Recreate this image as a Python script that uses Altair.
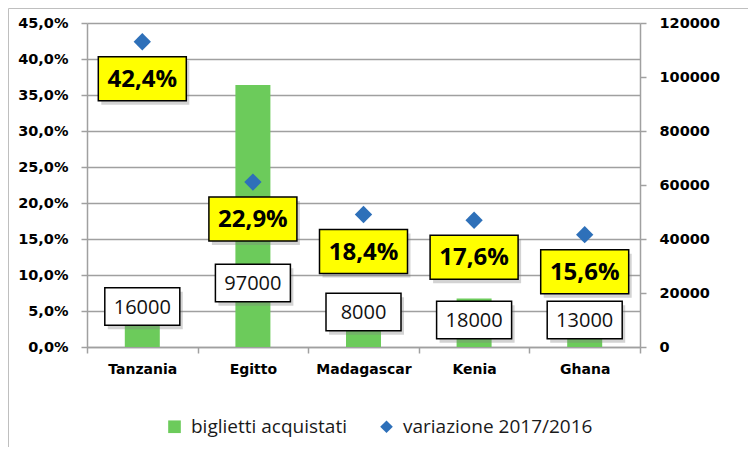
import altair as alt
import pandas as pd

countries = ["Tanzania", "Egitto", "Madagascar", "Kenia", "Ghana"]
tickets = [16000, 97000, 8000, 18000, 13000]
variation = [0.424, 0.229, 0.184, 0.176, 0.156]
# where the white value labels sit, in ticket units (as placed in the original)
ticket_label_at = [15000, 23700, 13000, 10000, 10000]

series_names = ["biglietti acquistati", "variazione 2017/2016"]
pct_ticks = [0, 0.05, 0.10, 0.15, 0.20, 0.25, 0.30, 0.35, 0.40, 0.45]
count_ticks = [0, 20000, 40000, 60000, 80000, 100000, 120000]

df = pd.DataFrame({
    "country": countries,
    "tickets": tickets,
    "variation": variation,
    "label_at": ticket_label_at,
})

W, H = 553, 324
GREEN = "#6CCB5B"
BLUE = "#2E70B9"
GRID = "#A0A0A0"
BOX = "M-1,-0.5L1,-0.5L1,0.5L-1,0.5Z"
AXFONT = "DejaVu Sans"

pct_fmt = "replace(format(datum.value, '.1%'), '.', ',')"

x_enc = alt.X(
    "country:N", sort=countries, title=None,
    scale=alt.Scale(paddingInner=0, paddingOuter=0),
    axis=alt.Axis(
        tickBand="extent", labelAngle=0, tickSize=6, tickColor=GRID, tickWidth=1.5,
        domainColor=GRID, domainWidth=1.5, labelFont=AXFONT, labelFontWeight="bold",
        labelFontSize=14, labelColor="black", labelPadding=9,
    ),
)

count_scale = alt.Scale(domain=[0, 120000], nice=False, zero=True)
pct_scale = alt.Scale(domain=[0, 0.45], nice=False, zero=True)

count_axis = alt.Axis(
    orient="right", values=count_ticks, format="d", grid=False, title=None,
    tickSize=6, tickColor=GRID, tickWidth=1.5, domainColor=GRID,
    domainWidth=1.5, labelFont=AXFONT, labelFontWeight="bold",
    labelFontSize=14.5, labelColor="black", labelPadding=13,
)
pct_axis = alt.Axis(
    orient="left", values=pct_ticks, labelExpr=pct_fmt, grid=True, title=None,
    gridColor=GRID, gridWidth=1.5, tickSize=6, tickColor=GRID,
    tickWidth=1.5, domainColor=GRID, domainWidth=1.5,
    labelFont=AXFONT, labelFontWeight="bold", labelFontSize=14.5,
    labelColor="black", labelPadding=13,
)

legend_kw = dict(
    title=None, orient="none", legendX=78, legendY=394, direction="horizontal",
    labelFont="Open Sans", labelFontSize=19, labelColor="#1a1a1a", labelLimit=0,
    symbolSize=160, symbolStrokeWidth=0, columnPadding=30, labelOffset=7, padding=0,
)

color_enc = alt.Color(
    "series:N",
    scale=alt.Scale(domain=series_names, range=[GREEN, BLUE]),
    legend=alt.Legend(**legend_kw),
)
shape_enc = alt.Shape(
    "series:N",
    scale=alt.Scale(domain=series_names, range=["square", "diamond"]),
    legend=alt.Legend(**legend_kw),
)

base = alt.Chart(df)

frame = alt.Chart(alt.Data(values=[{"a": 1}])).mark_rect(
    filled=False, stroke="#BFBFBF", strokeWidth=1
).encode(
    x=alt.value(-78.5), x2=alt.value(W + 130),
    y=alt.value(-14.5), y2=alt.value(H + 130),
)

y_count_lbl = alt.Y("label_at:Q", scale=count_scale, title=None, axis=count_axis)
y_pct = alt.Y("variation:Q", scale=pct_scale, title=None, axis=pct_axis)

bars = base.transform_calculate(series="'biglietti acquistati'").mark_bar(size=35).encode(
    x=x_enc,
    y=alt.Y("tickets:Q", scale=count_scale, title=None, axis=count_axis),
    color=color_enc,
)

white_shadow = base.mark_point(
    shape=BOX, size=75 * 75, filled=True, fill="#808080", opacity=0.35,
    strokeWidth=0, xOffset=3, yOffset=4,
).encode(x=x_enc, y=y_count_lbl)

white_box = base.mark_point(
    shape=BOX, size=75 * 75, filled=True, fill="white", opacity=1,
    stroke="black", strokeWidth=1.5,
).encode(x=x_enc, y=y_count_lbl)

white_text = base.mark_text(
    font="Open Sans", fontSize=20, color="#111111", baseline="middle", dy=1,
).encode(
    x=x_enc, y=y_count_lbl,
    text=alt.Text("tickets:Q", format="d"),
)

count_group = alt.layer(bars, white_shadow, white_box, white_text)

diamonds = base.transform_calculate(series="'variazione 2017/2016'").mark_point(
    filled=True, size=300, opacity=1, strokeWidth=0,
).encode(
    x=x_enc,
    y=y_pct,
    color=color_enc,
    shape=shape_enc,
)

yellow_shadow = base.mark_point(
    shape=BOX, size=88 * 88, filled=True, fill="#808080", opacity=0.35,
    strokeWidth=0, xOffset=3, yOffset=37 + 4,
).encode(x=x_enc, y=y_pct)

yellow_box = base.mark_point(
    shape=BOX, size=88 * 88, filled=True, fill="#FFFF00", opacity=1,
    stroke="black", strokeWidth=1.5, yOffset=37,
).encode(x=x_enc, y=y_pct)

yellow_text = base.transform_calculate(
    lbl="replace(format(datum.variation, '.1%'), '.', ',')"
).mark_text(
    font="Open Sans", fontWeight="bold", fontSize=24, color="black",
    baseline="middle", yOffset=38,
).encode(
    x=x_enc, y=y_pct,
    text="lbl:N",
)

pct_group = alt.layer(diamonds, yellow_shadow, yellow_box, yellow_text)

chart = alt.layer(frame, count_group, pct_group).resolve_scale(
    y="independent"
).properties(
    width=W, height=H,
    autosize=alt.AutoSizeParams(type="none"),
    padding={"left": 79, "top": 15, "right": 108, "bottom": 100},
    background="white",
).configure_view(stroke=None)

chart.save("out.html", embed_options={"renderer": "svg", "actions": False})
